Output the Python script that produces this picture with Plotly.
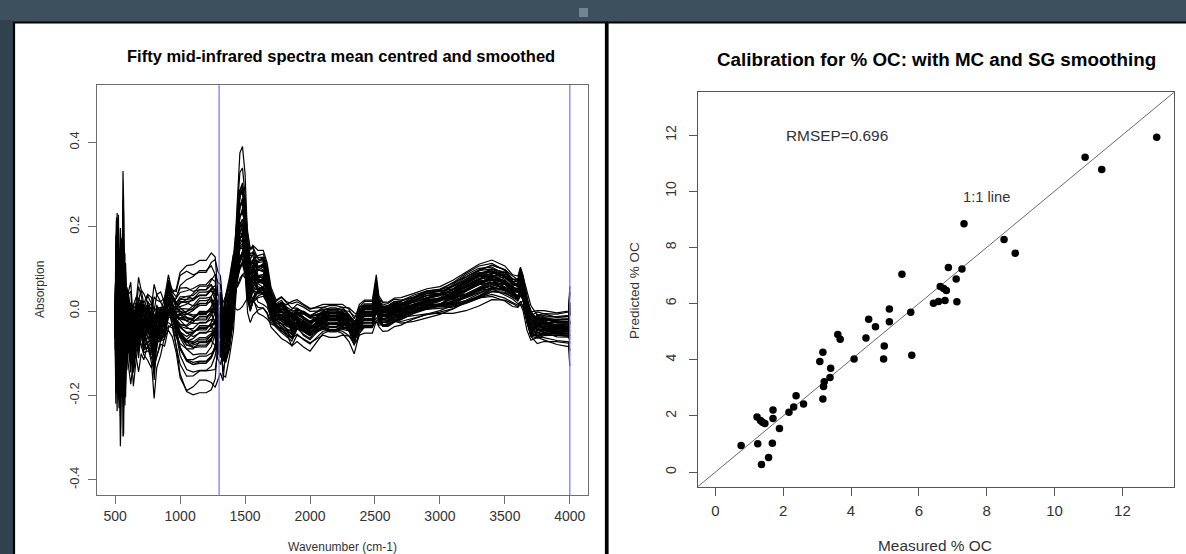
import plotly.graph_objects as go

W, H = 1186, 554

# ---------------- Data: spectra (mean + spread profiles, per-sample weights) ----------------
wavenumber = [500, 505, 510, 515, 520, 525, 530, 535, 540, 545,
              550, 555, 560, 565, 570, 575, 580, 590, 600, 620,
              640, 660, 680, 700, 720, 750, 780, 800, 820, 850,
              880, 910, 940, 970, 1000, 1050, 1100, 1150, 1200, 1240,
              1270, 1290, 1310, 1330, 1350, 1380, 1410, 1440, 1460, 1480,
              1500, 1520, 1540, 1560, 1600, 1640, 1670, 1700, 1740, 1780,
              1820, 1860, 1900, 1950, 2000, 2050, 2100, 2150, 2200, 2250,
              2300, 2340, 2360, 2380, 2420, 2480, 2510, 2530, 2560, 2600,
              2650, 2700, 2800, 2900, 3000, 3100, 3200, 3300, 3400, 3500,
              3560, 3600, 3620, 3640, 3670, 3700, 3750, 3800, 3900, 3990,
              4000]

mean_profile = [-0.03, 0.00, 0.02, 0.03, 0.03, 0.00, -0.03, -0.05, -0.06, -0.04,
                -0.01, 0.01, 0.02, 0.00, -0.03, -0.04, -0.04, -0.03, -0.03, -0.05,
                -0.07, -0.04, -0.03, -0.02, -0.04, -0.03, -0.05, -0.07, -0.04, -0.03,
                -0.02, 0.02, 0.00, -0.02, -0.03, -0.04, -0.04, -0.03, -0.03, -0.02,
                -0.02, -0.03, -0.03, -0.07, -0.05, -0.01, 0.05, 0.14, 0.19, 0.20,
                0.17, 0.10, 0.07, 0.08, 0.07, 0.07, 0.05, 0.01, -0.01, -0.01,
                -0.02, -0.03, -0.02, -0.03, -0.04, -0.03, -0.02, -0.02, -0.02, -0.02,
                -0.03, -0.05, -0.04, -0.02, -0.01, -0.01, 0.03, 0.00, -0.01, -0.01,
                0.00, 0.00, 0.01, 0.02, 0.025, 0.035, 0.05, 0.065, 0.075, 0.065,
                0.05, 0.045, 0.06, 0.045, 0.0, -0.03, -0.035, -0.035, -0.04, -0.04,
                -0.03]

spread_a = [0.06, 0.12, 0.18, 0.22, 0.20, 0.16, 0.14, 0.16, 0.18, 0.15,
            0.14, 0.18, 0.22, 0.18, 0.14, 0.12, 0.10, 0.09, 0.08, 0.08,
            0.09, 0.08, 0.08, 0.08, 0.08, 0.08, 0.09, 0.10, 0.09, 0.07,
            0.06, 0.07, 0.05, 0.08, 0.14, 0.17, 0.17, 0.17, 0.17, 0.18,
            0.17, 0.10, 0.07, 0.10, 0.09, 0.07, 0.08, 0.11, 0.14, 0.15,
            0.13, 0.10, 0.08, 0.08, 0.08, 0.08, 0.07, 0.05, 0.04, 0.05,
            0.05, 0.06, 0.05, 0.05, 0.05, 0.045, 0.04, 0.04, 0.04, 0.04,
            0.04, 0.04, 0.04, 0.04, 0.04, 0.04, 0.06, 0.04, 0.035, 0.035,
            0.035, 0.035, 0.035, 0.035, 0.035, 0.04, 0.045, 0.05, 0.05, 0.045,
            0.04, 0.04, 0.045, 0.045, 0.04, 0.04, 0.04, 0.04, 0.04, 0.045,
            0.09]

spread_b = [0.05, -0.10, -0.14, 0.05, 0.12, 0.15, 0.03, -0.14, -0.12, 0.08,
            0.14, -0.03, -0.14, -0.06, 0.12, 0.10, -0.06, 0.05, 0.05, -0.05,
            0.06, 0.04, -0.04, 0.03, -0.03, 0.03, 0.05, -0.05, 0.04, -0.02,
            0.02, 0.05, 0.02, 0.04, 0.05, 0.06, 0.07, 0.07, 0.07, 0.07,
            0.06, -0.03, -0.06, 0.05, 0.07, 0.06, 0.07, -0.06, -0.08, -0.08,
            -0.07, 0.04, 0.05, 0.06, 0.05, 0.05, 0.04, 0.03, 0.02, 0.02,
            0.01, 0.00, 0.01, 0.02, 0.02, 0.02, 0.02, 0.02, 0.02, 0.02,
            0.01, 0.00, 0.02, 0.02, 0.02, 0.02, 0.04, 0.02, 0.02, 0.015,
            0.015, 0.02, 0.02, 0.025, 0.025, 0.03, 0.03, 0.03, 0.03, 0.03,
            0.02, 0.03, 0.04, 0.02, -0.02, -0.02, 0.02, 0.02, 0.02, 0.02,
            0.02]

spread_c = [0.0, 0.12, -0.10, -0.16, 0.05, 0.16, 0.12, -0.10, 0.08, 0.16,
            -0.08, -0.16, 0.10, 0.16, 0.0, -0.12, 0.08, -0.05, 0.05, 0.05,
            -0.04, 0.0, 0.04, 0.02, -0.02, -0.03, 0.0, 0.04, 0.03, 0.0,
            -0.02, 0.02, 0.03, 0.02, 0.01, 0.0, -0.01, -0.02, -0.02, -0.01,
            0.02, 0.04, 0.05, 0.02, -0.03, -0.05, -0.03, 0.02, 0.04, 0.03,
            0.0, -0.03, -0.04, -0.02, 0.02, 0.03, 0.02, 0.0, -0.01, -0.02,
            -0.02, -0.01, 0.01, 0.02, 0.02, 0.01, 0.0, -0.01, -0.01, 0.0,
            0.01, 0.02, 0.01, 0.0, -0.01, -0.01, 0.01, 0.0, -0.01, -0.01,
            -0.01, 0.0, 0.01, 0.015, 0.01, 0.0, -0.01, -0.01, 0.0, 0.01,
            0.01, 0.01, 0.02, 0.01, 0.0, -0.01, -0.01, 0.0, 0.01, 0.01,
            0.03]

weight_a = [0.95, -0.98, 0.30, -0.10, 0.04, 0.42, -0.33, 0.18, -0.46, 0.55,
            -0.06, 0.12, -0.22, 0.28, -0.62, 0.01, 0.36, -0.15, 0.22, -0.38,
            0.66, -0.02, 0.09, -0.27, 0.47, -0.52, 0.07, -0.12, 0.32, -0.19,
            0.14, -0.42, 0.80, -0.78, 0.20, -0.04, 0.34, -0.30, 0.05, -0.17,
            0.50, -0.35, 0.10, -0.08, 0.25, -0.58, 0.40, -0.24, 0.17, 0.00]

weight_b = [-0.45, 0.30, 0.62, -0.55, 0.18, -0.20, 0.48, -0.70, 0.05, 0.35,
            -0.32, 0.78, 0.12, -0.40, -0.15, 0.55, -0.62, 0.25, 0.02, 0.40,
            -0.28, -0.50, 0.68, 0.10, -0.08, 0.22, -0.75, 0.45, -0.35, 0.60,
            0.15, -0.12, 0.20, -0.30, -0.58, 0.38, 0.08, -0.45, 0.52, 0.28,
            -0.18, 0.65, -0.25, -0.60, 0.42, 0.00, -0.38, 0.15, -0.05, 0.30]

weight_c = [0.4, -0.6, 0.1, 0.8, -0.3, 0.5, -0.9, 0.2, 0.7, -0.4,
            0.0, -0.7, 0.6, 0.3, -0.2, 0.9, -0.5, 0.1, -0.8, 0.4,
            0.6, -0.1, -0.6, 0.8, -0.3, 0.2, 0.5, -0.9, 0.3, -0.4,
            -0.7, 0.7, 0.0, 0.5, -0.5, 0.9, -0.2, 0.4, -0.8, 0.1,
            0.3, -0.3, 0.7, -0.6, 0.2, 0.6, -0.1, -0.5, 0.8, -0.2]

region_lines = [1300, 4000]

# ---------------- Data: calibration ----------------
measured = [0.76, 1.25, 1.36, 1.57, 1.68, 1.23, 1.33, 1.39, 1.46, 1.70,
            1.70, 1.89, 2.17, 2.31, 2.38, 2.60, 3.08, 3.17, 3.17, 3.21,
            3.19, 3.38, 3.40, 3.61, 3.68, 4.09, 4.44, 4.52, 4.72, 4.96,
            4.98, 5.13, 5.13, 5.50, 5.76, 5.79, 6.43, 6.58, 6.77, 7.12,
            6.63, 6.73, 6.81, 7.10, 6.87, 7.27, 7.33, 8.51, 8.84, 10.90,
            11.39, 13.01]
predicted = [0.95, 1.01, 0.27, 0.52, 1.03, 1.96, 1.84, 1.77, 1.73, 2.21,
             1.91, 1.55, 2.13, 2.32, 2.72, 2.42, 3.94, 4.27, 2.60, 3.22,
             3.05, 3.37, 3.70, 4.90, 4.73, 4.03, 4.77, 5.44, 5.17, 4.03,
             4.49, 5.35, 5.81, 7.04, 5.69, 4.16, 6.01, 6.07, 6.11, 6.06,
             6.61, 6.54, 6.46, 6.87, 7.28, 7.23, 8.84, 8.28, 7.79, 11.21,
             10.77, 11.92]
identity_line = [-1, 14]

# ---------------- Figure ----------------
FONT = "Liberation Sans, Arial, sans-serif"
fig = go.Figure()

for wa, wb, wc in zip(weight_a, weight_b, weight_c):
    y = [m + wa * a + wb * b + wc * c
         for m, a, b, c in zip(mean_profile, spread_a, spread_b, spread_c)]
    fig.add_trace(go.Scatter(x=wavenumber, y=y, mode="lines",
                             line=dict(color="black", width=1.2),
                             xaxis="x", yaxis="y", hoverinfo="skip", showlegend=False))

for xv in region_lines:
    fig.add_trace(go.Scatter(x=[xv, xv], y=[-1, 1], mode="lines",
                             line=dict(color="rgb(115,115,255)", width=1.2),
                             xaxis="x", yaxis="y", hoverinfo="skip", showlegend=False))

fig.add_trace(go.Scatter(x=identity_line, y=identity_line, mode="lines",
                         line=dict(color="#6a6a6a", width=1),
                         xaxis="x2", yaxis="y2", hoverinfo="skip", showlegend=False))
fig.add_trace(go.Scatter(x=measured, y=predicted, mode="markers",
                         marker=dict(color="black", size=7.5),
                         xaxis="x2", yaxis="y2", showlegend=False))

def px(x):
    return x / W

def py(y):
    return 1 - y / H

axis_common = dict(showgrid=False, zeroline=False, showline=True, mirror=True,
                   ticks="outside", ticklen=8)

fig.update_layout(
    width=W, height=H, margin=dict(l=0, r=0, t=0, b=0),
    paper_bgcolor="rgb(60,80,94)", plot_bgcolor="white",
    font=dict(family=FONT, color="#222"),
    showlegend=False,
    xaxis=dict(domain=[px(97), px(588)], range=[360, 4140], anchor="y",
               tickvals=[500, 1000, 1500, 2000, 2500, 3000, 3500, 4000],
               linecolor="#6e6e6e", tickcolor="#6e6e6e", linewidth=1.2,
               tickfont=dict(size=14, color="#333"), **axis_common),
    yaxis=dict(domain=[py(495), py(85)], range=[-0.436, 0.536], anchor="x",
               tickvals=[-0.4, -0.2, 0.0, 0.2, 0.4],
               ticktext=["-0.4", "-0.2", "0.0", "0.2", "0.4"], tickangle=-90,
               linecolor="#6e6e6e", tickcolor="#6e6e6e", linewidth=1.2,
               tickfont=dict(size=13, color="#333"), ticklabelstandoff=4, **axis_common),
    xaxis2=dict(domain=[px(697.7), px(1174)], range=[-0.52, 13.52], anchor="y2",
                tickvals=[0, 2, 4, 6, 8, 10, 12],
                linecolor="#555", tickcolor="#555", linewidth=1.4,
                tickfont=dict(size=15, color="#333"), ticklabelstandoff=2, **axis_common),
    yaxis2=dict(domain=[py(486.7), py(92.3)], range=[-0.52, 13.52], anchor="x2",
                tickvals=[0, 2, 4, 6, 8, 10, 12], tickangle=-90,
                linecolor="#555", tickcolor="#555", linewidth=1.4,
                tickfont=dict(size=14, color="#333"), ticklabelstandoff=7, **axis_common),
)

shapes = [
    dict(type="rect", xref="paper", yref="paper", x0=0, x1=px(13), y0=-0.1, y1=py(20),
         fillcolor="rgb(48,66,78)", line=dict(width=0), layer="below"),
    dict(type="rect", xref="paper", yref="paper", x0=px(14), x1=px(606), y0=-0.05, y1=py(22.5),
         fillcolor="white", line=dict(color="black", width=2.2), layer="below"),
    dict(type="rect", xref="paper", yref="paper", x0=px(607.5), x1=px(1192), y0=-0.05, y1=py(22.5),
         fillcolor="white", line=dict(color="black", width=2.2), layer="below"),
    dict(type="rect", xref="paper", yref="paper", x0=px(579), x1=px(588), y0=py(17), y1=py(8),
         fillcolor="rgba(150,170,180,0.6)", line=dict(width=0), layer="below"),
]
fig.update_layout(shapes=shapes)

annotations = [
    dict(text="<b>Fifty mid-infrared spectra mean centred and smoothed</b>", xref="paper", yref="paper",
         x=px(340.5), y=py(56), showarrow=False, font=dict(size=16.5, color="black"),
         xanchor="center", yanchor="middle"),
    dict(text="<b>Calibration for % OC: with MC and SG smoothing</b>", xref="paper", yref="paper",
         x=px(936), y=py(60), showarrow=False, font=dict(size=18.8, color="black"),
         xanchor="center", yanchor="middle"),
    dict(text="Wavenumber (cm-1)", xref="paper", yref="paper", x=px(342.5), y=py(547),
         showarrow=False, font=dict(size=12, color="#333"), xanchor="center", yanchor="middle"),
    dict(text="Absorption", xref="paper", yref="paper", x=px(40), y=py(290), textangle=-90,
         showarrow=False, font=dict(size=12, color="#333"), xanchor="center", yanchor="middle"),
    dict(text="Measured % OC", xref="paper", yref="paper", x=px(935), y=py(545),
         showarrow=False, font=dict(size=15.4, color="#333"), xanchor="center", yanchor="middle"),
    dict(text="Predicted % OC", xref="paper", yref="paper", x=px(634), y=py(290), textangle=-90,
         showarrow=False, font=dict(size=13.5, color="#333"), xanchor="center", yanchor="middle"),
    dict(text="RMSEP=0.696", xref="x2", yref="y2", x=3.6, y=12.0, showarrow=False,
         font=dict(size=15.4, color="#333"), xanchor="center", yanchor="middle"),
    dict(text="1:1 line", xref="x2", yref="y2", x=8.0, y=9.8, showarrow=False,
         font=dict(size=14.7, color="#333"), xanchor="center", yanchor="middle"),
]
fig.update_layout(annotations=annotations)

fig.write_html("out.html", config={"displayModeBar": False},
               post_script="document.body.style.margin='0';document.body.style.overflow='hidden';")
